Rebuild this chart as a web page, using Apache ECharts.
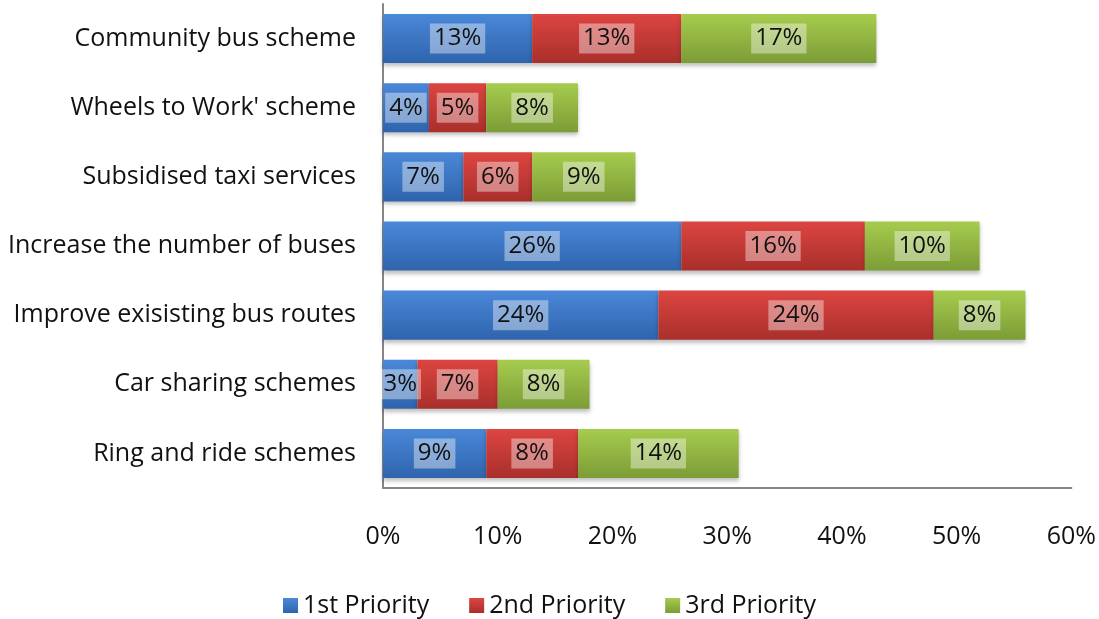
<!DOCTYPE html>
<html>
<head>
<meta charset="utf-8">
<script src="https://cdn.jsdelivr.net/npm/echarts@6/dist/echarts.min.js"></script>
<style>
  html, body { margin: 0; padding: 0; background: #fff; }
  #chart { width: 1099px; height: 619px; }
</style>
</head>
<body>
<div id="chart"></div>
<script>
// categories from bottom to top (echarts category axis goes upward)
var categories = [
  'Ring and ride schemes',
  'Car sharing schemes',
  'Improve exisisting bus routes',
  'Increase the number of buses',
  'Subsidised taxi services',
  "Wheels to Work' scheme",
  'Community bus scheme'
]
var first = [9, 3, 24, 26, 7, 4, 13]
var second = [8, 7, 24, 16, 6, 5, 13]
var third = [14, 8, 8, 10, 9, 8, 17]
var seriesNames = ['1st Priority', '2nd Priority', '3rd Priority']
var xTicks = [0, 10, 20, 30, 40, 50, 60]

var font = '"Open Sans", "Noto Sans", sans-serif'

function grad(top, bottom) {
  return new echarts.graphic.LinearGradient(0, 0, 0, 1, [
    { offset: 0, color: top },
    { offset: 1, color: bottom }
  ])
}

var colors = [
  grad('#4a88d8', '#2f64ad'),
  grad('#dc4541', '#a92f2b'),
  grad('#a6cc4e', '#7c9c36')
]
var legendColors = ['#3a74c2', '#c23b37', '#8fb344']

function makeSeries(name, data, idx) {
  return {
    name: name,
    type: 'bar',
    stack: 'total',
    barCategoryGap: '29%',
    data: data,
    itemStyle: {
      color: colors[idx],
      shadowColor: 'rgba(0,0,0,0.25)',
      shadowBlur: 4,
      shadowOffsetY: 3
    },
    label: {
      show: true,
      position: 'inside',
      formatter: '{c}%',
      color: '#111',
      fontSize: 24,
      fontFamily: font,
      backgroundColor: 'rgba(255,255,255,0.4)',
      padding: [3, 4]
    }
  }
}

var chart = echarts.init(document.getElementById('chart'))
chart.setOption({
  animation: false,
  color: legendColors,
  grid: { left: 383, right: 27, top: 4, bottom: 131 },
  legend: {
    top: 588,
    left: 'center',
    itemWidth: 15,
    itemHeight: 15,
    itemGap: 40,
    icon: 'rect',
    textStyle: { fontSize: 25, fontFamily: font, color: '#111' },
    data: seriesNames
  },
  xAxis: {
    type: 'value',
    min: xTicks[0],
    max: xTicks[xTicks.length - 1],
    interval: 10,
    axisLine: { show: true, lineStyle: { color: '#868686', width: 2 } },
    axisTick: { show: false },
    splitLine: { show: false },
    axisLabel: {
      formatter: '{value}%',
      fontSize: 25,
      fontFamily: font,
      color: '#111',
      margin: 36
    }
  },
  yAxis: {
    type: 'category',
    data: categories,
    axisLine: { show: true, lineStyle: { color: '#868686', width: 2 } },
    axisTick: { show: false },
    axisLabel: { fontSize: 25, fontFamily: font, color: '#111', margin: 27 }
  },
  series: [
    makeSeries(seriesNames[0], first, 0),
    makeSeries(seriesNames[1], second, 1),
    makeSeries(seriesNames[2], third, 2)
  ]
})
</script>
</body>
</html>
